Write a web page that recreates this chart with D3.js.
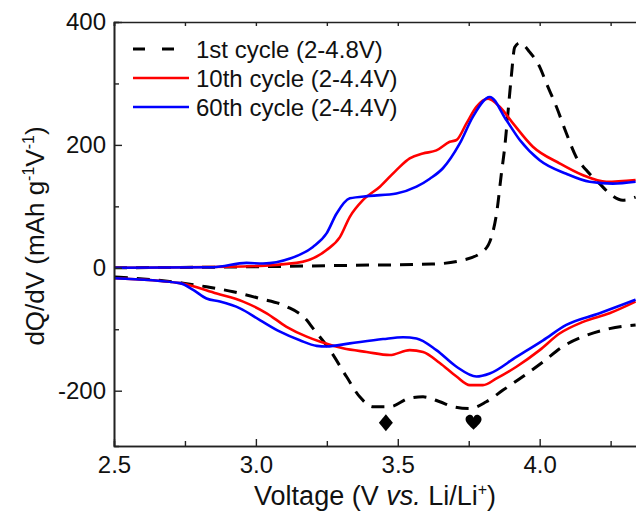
<!DOCTYPE html>
<html>
<head>
<meta charset="utf-8">
<script src="https://cdn.jsdelivr.net/npm/d3@7"></script>
<style>
    body { margin: 0; background: #fff; }
    svg text { font-family: Arial, "Liberation Sans", sans-serif; fill: #111; }
</style>
</head>
<body>
<svg id="chart" width="636" height="516"></svg>
<script>
// [voltage, dQ/dV]
var cycle1Charge = [
    [2.50, 0], [2.98, 1.6], [3.33, 4], [3.62, 6], [3.73, 12.5], [3.806, 29], [3.83, 50],
    [3.848, 88], [3.865, 153], [3.877, 197], [3.888, 251], [3.90, 311], [3.912, 359],
    [3.93, 366], [3.965, 351], [4.00, 327], [4.024, 300], [4.059, 262], [4.094, 219],
    [4.129, 180], [4.164, 159], [4.211, 137], [4.246, 121], [4.293, 110], [4.338, 115]
];
var cycle1Discharge = [
    [2.503, -15], [2.744, -25], [2.826, -31], [2.92, -39], [3.014, -50], [3.108, -63],
    [3.179, -85], [3.202, -99], [3.261, -134], [3.319, -177], [3.366, -210], [3.413, -226],
    [3.472, -226], [3.542, -212], [3.589, -210], [3.648, -218], [3.695, -226], [3.754, -229],
    [3.812, -218], [3.871, -199], [3.941, -177], [4.012, -153], [4.082, -128], [4.153, -112],
    [4.246, -99], [4.338, -93]
];
var cycle10Charge = [
    [2.50, 0], [2.908, 1.6], [3.143, 8], [3.249, 29], [3.296, 50], [3.331, 83], [3.377, 110],
    [3.437, 132], [3.495, 159], [3.542, 178], [3.588, 186], [3.636, 191], [3.683, 205],
    [3.707, 208], [3.742, 235], [3.777, 262], [3.818, 275], [3.859, 262], [3.906, 235],
    [3.976, 197], [4.07, 170], [4.151, 151], [4.235, 140], [4.338, 143]
];
var cycle10Discharge = [
    [2.503, -17], [2.732, -25], [2.862, -42], [2.955, -55], [3.038, -74], [3.108, -96],
    [3.179, -112], [3.225, -120], [3.307, -131], [3.39, -137], [3.472, -142], [3.542, -134],
    [3.589, -137], [3.648, -155], [3.707, -177], [3.754, -191], [3.80, -191], [3.848, -180],
    [3.918, -161], [4.00, -134], [4.07, -107], [4.153, -88], [4.246, -74], [4.338, -55]
];
var cycle60Charge = [
    [2.50, 0], [2.85, 1], [2.967, 8], [3.025, 7], [3.12, 15], [3.201, 34], [3.249, 56],
    [3.284, 88], [3.331, 113], [3.401, 117], [3.495, 121], [3.566, 132], [3.613, 145],
    [3.659, 162], [3.718, 202], [3.765, 246], [3.824, 278], [3.883, 240], [3.93, 208],
    [4.00, 175], [4.094, 153], [4.176, 140], [4.258, 137], [4.338, 140]
];
var cycle60Discharge = [
    [2.503, -17], [2.732, -25], [2.779, -36], [2.826, -50], [2.873, -55], [2.944, -66],
    [3.014, -85], [3.085, -104], [3.155, -118], [3.214, -127], [3.249, -128], [3.331, -123],
    [3.448, -116], [3.519, -113], [3.566, -115], [3.636, -134], [3.707, -161], [3.777, -177],
    [3.824, -172], [3.918, -145], [4.012, -118], [4.094, -93], [4.211, -74], [4.338, -52]
];
var seriesNames = ["1st cycle (2-4.8V)", "10th cycle (2-4.4V)", "60th cycle (2-4.4V)"];
var seriesColors = ["#000000", "#ff0000", "#0000ff"];
var xMajorTicks = [2.5, 3.0, 3.5, 4.0];
var xMinorTicks = [2.75, 3.25, 3.75, 4.25];
var yMajorTicks = [-200, 0, 200, 400];
var yMinorTicks = [-100, 100, 300];
// peak markers: diamond and heart under the 1st discharge
var markers = [
    {type: "diamond", v: 3.458, q: -252},
    {type: "heart", v: 3.767, q: -252}
];

let margin = {top: 22, left: 114, bottom: 70},
    svgW = 636, svgH = 516,
    plotH = svgH - margin.top - margin.bottom;

let x = d3.scaleLinear().domain([2.5, 4.35]).range([0, 525]);
let y = d3.scaleLinear().domain([-290, 400]).range([plotH, 0]);

let svg = d3.select("#chart")
    .append("g")
    .attr("transform", "translate(" + margin.left + "," + margin.top + ")");

let line = d3.line()
    .x(d => x(d[0]))
    .y(d => y(d[1]))
    .curve(d3.curveMonotoneX);

let curves = [
    {data: cycle1Charge, s: 0}, {data: cycle1Discharge, s: 0},
    {data: cycle10Charge, s: 1}, {data: cycle10Discharge, s: 1},
    {data: cycle60Charge, s: 2}, {data: cycle60Discharge, s: 2}
];

svg.selectAll(".curve")
    .data(curves)
    .enter().append("path")
    .attr("class", "curve")
    .attr("d", d => line(d.data))
    .style("fill", "none")
    .style("stroke", d => seriesColors[d.s])
    .style("stroke-width", d => d.s == 0 ? 3 : 2.6)
    .style("stroke-dasharray", d => d.s == 0 ? "13,9" : null)
    .style("stroke-linejoin", "round");

// axes
function styleAxis(g) {
    g.select(".domain").style("stroke", "#222").style("stroke-width", 1.6);
    g.selectAll(".tick line").style("stroke", "#222").style("stroke-width", 1.4);
    g.selectAll(".tick text").style("font-size", "24px").style("fill", "#111");
}

svg.append("g")
    .attr("transform", "translate(0," + plotH + ")")
    .call(d3.axisBottom(x).tickValues(xMinorTicks).tickSize(-5).tickFormat(""))
    .call(styleAxis);
svg.append("g")
    .attr("transform", "translate(0," + plotH + ")")
    .call(d3.axisBottom(x).tickValues(xMajorTicks).tickSizeInner(-7).tickSizeOuter(0).tickPadding(10).tickFormat(d3.format(".1f")))
    .call(styleAxis);

svg.append("g")
    .call(d3.axisTop(x).tickValues(xMajorTicks.concat(xMinorTicks)).tickSize(-4).tickFormat(""))
    .call(styleAxis);

svg.append("g")
    .call(d3.axisLeft(y).tickValues(yMinorTicks).tickSize(-5).tickFormat(""))
    .call(styleAxis);
// plain hyphen for negatives, like the original
svg.append("g")
    .call(d3.axisLeft(y).tickValues(yMajorTicks).tickSizeInner(-8).tickSizeOuter(0).tickPadding(8).tickFormat(d => String(d)))
    .call(styleAxis);

// markers
let diamondPath = "M0,-8.5L7,0L0,8.5L-7,0Z";
let heartPath = "M0,7C-4,3 -8,0 -8,-3.5C-8,-6.5 -5.5,-8 -3.5,-8C-1.5,-8 -0.3,-6.5 0,-5C0.3,-6.5 1.5,-8 3.5,-8C5.5,-8 8,-6.5 8,-3.5C8,0 4,3 0,7Z";
svg.selectAll(".marker")
    .data(markers)
    .enter().append("path")
    .attr("class", "marker")
    .attr("transform", d => "translate(" + x(d.v) + "," + y(d.q) + ")")
    .attr("d", d => d.type == "diamond" ? diamondPath : heartPath)
    .style("fill", "#000");

// legend
let legend = svg.selectAll(".legend")
    .data(seriesNames)
    .enter().append("g")
    .attr("class", "legend")
    .attr("transform", (d, i) => "translate(19," + (27 + i * 29) + ")");

legend.append("line")
    .attr("x1", 0).attr("x2", d => 56)
    .attr("y1", 0).attr("y2", 0)
    .style("stroke", (d, i) => seriesColors[i])
    .style("stroke-width", (d, i) => i == 0 ? 3 : 2.6)
    .style("stroke-dasharray", (d, i) => i == 0 ? "12,17" : null);

legend.append("text")
    .attr("x", 63)
    .attr("y", 8.5)
    .style("font-size", "24px")
    .text(d => d);

// axis titles
let xTitle = svg.append("text")
    .attr("x", x(3.42))
    .attr("y", plotH + 59)
    .style("font-size", "27px")
    .style("text-anchor", "middle");
xTitle.append("tspan").text("Voltage (V ");
xTitle.append("tspan").style("font-style", "italic").text("vs.");
xTitle.append("tspan").text(" Li/Li");
xTitle.append("tspan").attr("dy", -10).style("font-size", "16px").text("+");
xTitle.append("tspan").attr("dy", 10).text(")");

let yTitle = svg.append("text")
    .attr("transform", "translate(" + (44 - margin.left) + "," + (plotH / 2 + 2) + ") rotate(-90)")
    .style("font-size", "26px")
    .style("text-anchor", "middle");
yTitle.append("tspan").text("dQ/dV (mAh g");
yTitle.append("tspan").attr("dy", -10).style("font-size", "16px").text("-1");
yTitle.append("tspan").attr("dy", 10).text("V");
yTitle.append("tspan").attr("dy", -10).style("font-size", "16px").text("-1");
yTitle.append("tspan").attr("dy", 10).text(")");
</script>
</body>
</html>
